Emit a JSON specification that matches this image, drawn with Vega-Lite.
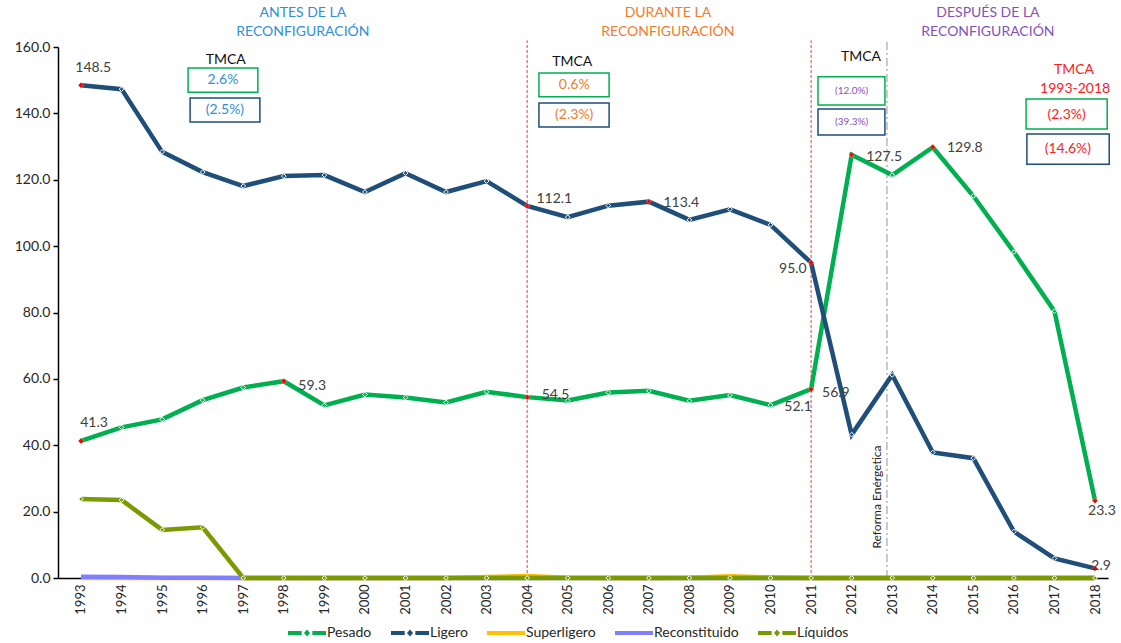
{
  "$schema": "https://vega.github.io/schema/vega-lite/v6.json",
  "autosize": "none",
  "width": 1050,
  "height": 531,
  "padding": {"left": 58, "top": 47, "right": 13, "bottom": 65},
  "background": "white",
  "config": {
    "view": {"stroke": null},
    "font": "Lato",
    "text": {"font": "Lato"}
  },
  "datasets": {
    "series": [
      {"year": 1993, "serie": "Pesado", "value": 41.3},
      {"year": 1994, "serie": "Pesado", "value": 45.4},
      {"year": 1995, "serie": "Pesado", "value": 47.8},
      {"year": 1996, "serie": "Pesado", "value": 53.6},
      {"year": 1997, "serie": "Pesado", "value": 57.4},
      {"year": 1998, "serie": "Pesado", "value": 59.3},
      {"year": 1999, "serie": "Pesado", "value": 52.0},
      {"year": 2000, "serie": "Pesado", "value": 55.3},
      {"year": 2001, "serie": "Pesado", "value": 54.4},
      {"year": 2002, "serie": "Pesado", "value": 52.9},
      {"year": 2003, "serie": "Pesado", "value": 56.1},
      {"year": 2004, "serie": "Pesado", "value": 54.5},
      {"year": 2005, "serie": "Pesado", "value": 53.5},
      {"year": 2006, "serie": "Pesado", "value": 55.9},
      {"year": 2007, "serie": "Pesado", "value": 56.4},
      {"year": 2008, "serie": "Pesado", "value": 53.4},
      {"year": 2009, "serie": "Pesado", "value": 55.1},
      {"year": 2010, "serie": "Pesado", "value": 52.1},
      {"year": 2011, "serie": "Pesado", "value": 56.9},
      {"year": 2012, "serie": "Pesado", "value": 127.5},
      {"year": 2013, "serie": "Pesado", "value": 121.4},
      {"year": 2014, "serie": "Pesado", "value": 129.8},
      {"year": 2015, "serie": "Pesado", "value": 115.1},
      {"year": 2016, "serie": "Pesado", "value": 98.2},
      {"year": 2017, "serie": "Pesado", "value": 80.4},
      {"year": 2018, "serie": "Pesado", "value": 23.3},
      {"year": 1993, "serie": "Ligero", "value": 148.5},
      {"year": 1994, "serie": "Ligero", "value": 147.3},
      {"year": 1995, "serie": "Ligero", "value": 128.4},
      {"year": 1996, "serie": "Ligero", "value": 122.3},
      {"year": 1997, "serie": "Ligero", "value": 118.1},
      {"year": 1998, "serie": "Ligero", "value": 121.1},
      {"year": 1999, "serie": "Ligero", "value": 121.4},
      {"year": 2000, "serie": "Ligero", "value": 116.3},
      {"year": 2001, "serie": "Ligero", "value": 122.0},
      {"year": 2002, "serie": "Ligero", "value": 116.3},
      {"year": 2003, "serie": "Ligero", "value": 119.6},
      {"year": 2004, "serie": "Ligero", "value": 112.1},
      {"year": 2005, "serie": "Ligero", "value": 108.7},
      {"year": 2006, "serie": "Ligero", "value": 112.2},
      {"year": 2007, "serie": "Ligero", "value": 113.4},
      {"year": 2008, "serie": "Ligero", "value": 107.9},
      {"year": 2009, "serie": "Ligero", "value": 111.1},
      {"year": 2010, "serie": "Ligero", "value": 106.4},
      {"year": 2011, "serie": "Ligero", "value": 95.0},
      {"year": 2012, "serie": "Ligero", "value": 43.2},
      {"year": 2013, "serie": "Ligero", "value": 61.2},
      {"year": 2014, "serie": "Ligero", "value": 37.8},
      {"year": 2015, "serie": "Ligero", "value": 36.1},
      {"year": 2016, "serie": "Ligero", "value": 14.0},
      {"year": 2017, "serie": "Ligero", "value": 5.9},
      {"year": 2018, "serie": "Ligero", "value": 2.9},
      {"year": 1993, "serie": "Superligero", "value": 0},
      {"year": 1994, "serie": "Superligero", "value": 0},
      {"year": 1995, "serie": "Superligero", "value": 0},
      {"year": 1996, "serie": "Superligero", "value": 0},
      {"year": 1997, "serie": "Superligero", "value": 0},
      {"year": 1998, "serie": "Superligero", "value": 0},
      {"year": 1999, "serie": "Superligero", "value": 0},
      {"year": 2000, "serie": "Superligero", "value": 0},
      {"year": 2001, "serie": "Superligero", "value": 0},
      {"year": 2002, "serie": "Superligero", "value": 0},
      {"year": 2003, "serie": "Superligero", "value": 0.3},
      {"year": 2004, "serie": "Superligero", "value": 0.6},
      {"year": 2005, "serie": "Superligero", "value": 0.1},
      {"year": 2006, "serie": "Superligero", "value": 0},
      {"year": 2007, "serie": "Superligero", "value": 0},
      {"year": 2008, "serie": "Superligero", "value": 0.1},
      {"year": 2009, "serie": "Superligero", "value": 0.5},
      {"year": 2010, "serie": "Superligero", "value": 0.2},
      {"year": 2011, "serie": "Superligero", "value": 0},
      {"year": 2012, "serie": "Superligero", "value": 0},
      {"year": 2013, "serie": "Superligero", "value": 0},
      {"year": 2014, "serie": "Superligero", "value": 0},
      {"year": 2015, "serie": "Superligero", "value": 0},
      {"year": 2016, "serie": "Superligero", "value": 0},
      {"year": 2017, "serie": "Superligero", "value": 0},
      {"year": 2018, "serie": "Superligero", "value": 0},
      {"year": 1993, "serie": "Reconstituido", "value": 0.4},
      {"year": 1994, "serie": "Reconstituido", "value": 0.3},
      {"year": 1995, "serie": "Reconstituido", "value": 0.1},
      {"year": 1996, "serie": "Reconstituido", "value": 0.1},
      {"year": 1997, "serie": "Reconstituido", "value": 0},
      {"year": 1998, "serie": "Reconstituido", "value": 0},
      {"year": 1999, "serie": "Reconstituido", "value": 0},
      {"year": 2000, "serie": "Reconstituido", "value": 0},
      {"year": 2001, "serie": "Reconstituido", "value": 0},
      {"year": 2002, "serie": "Reconstituido", "value": 0},
      {"year": 2003, "serie": "Reconstituido", "value": 0},
      {"year": 2004, "serie": "Reconstituido", "value": 0},
      {"year": 2005, "serie": "Reconstituido", "value": 0},
      {"year": 2006, "serie": "Reconstituido", "value": 0},
      {"year": 2007, "serie": "Reconstituido", "value": 0},
      {"year": 2008, "serie": "Reconstituido", "value": 0},
      {"year": 2009, "serie": "Reconstituido", "value": 0},
      {"year": 2010, "serie": "Reconstituido", "value": 0},
      {"year": 2011, "serie": "Reconstituido", "value": 0},
      {"year": 2012, "serie": "Reconstituido", "value": 0},
      {"year": 2013, "serie": "Reconstituido", "value": 0},
      {"year": 2014, "serie": "Reconstituido", "value": 0},
      {"year": 2015, "serie": "Reconstituido", "value": 0},
      {"year": 2016, "serie": "Reconstituido", "value": 0},
      {"year": 2017, "serie": "Reconstituido", "value": 0},
      {"year": 2018, "serie": "Reconstituido", "value": 0},
      {"year": 1993, "serie": "Líquidos", "value": 23.8},
      {"year": 1994, "serie": "Líquidos", "value": 23.5},
      {"year": 1995, "serie": "Líquidos", "value": 14.5},
      {"year": 1996, "serie": "Líquidos", "value": 15.3},
      {"year": 1997, "serie": "Líquidos", "value": 0},
      {"year": 1998, "serie": "Líquidos", "value": 0},
      {"year": 1999, "serie": "Líquidos", "value": 0},
      {"year": 2000, "serie": "Líquidos", "value": 0},
      {"year": 2001, "serie": "Líquidos", "value": 0},
      {"year": 2002, "serie": "Líquidos", "value": 0},
      {"year": 2003, "serie": "Líquidos", "value": 0},
      {"year": 2004, "serie": "Líquidos", "value": 0},
      {"year": 2005, "serie": "Líquidos", "value": 0},
      {"year": 2006, "serie": "Líquidos", "value": 0},
      {"year": 2007, "serie": "Líquidos", "value": 0},
      {"year": 2008, "serie": "Líquidos", "value": 0},
      {"year": 2009, "serie": "Líquidos", "value": 0},
      {"year": 2010, "serie": "Líquidos", "value": 0},
      {"year": 2011, "serie": "Líquidos", "value": 0},
      {"year": 2012, "serie": "Líquidos", "value": 0},
      {"year": 2013, "serie": "Líquidos", "value": 0},
      {"year": 2014, "serie": "Líquidos", "value": 0},
      {"year": 2015, "serie": "Líquidos", "value": 0},
      {"year": 2016, "serie": "Líquidos", "value": 0},
      {"year": 2017, "serie": "Líquidos", "value": 0},
      {"year": 2018, "serie": "Líquidos", "value": 0}
    ],
    "highlights": [
      {"year": 1993, "value": 41.3, "text": "41.3", "lx": 1993.32, "ly": 46.7},
      {"year": 1993, "value": 148.5, "text": "148.5", "lx": 1993.30, "ly": 153.7},
      {"year": 1998, "value": 59.3, "text": "59.3", "lx": 1998.70, "ly": 57.8},
      {"year": 2004, "value": 54.5, "text": "54.5", "lx": 2004.70, "ly": 55.1},
      {"year": 2004, "value": 112.1, "text": "112.1", "lx": 2004.67, "ly": 114.2},
      {"year": 2007, "value": 113.4, "text": "113.4", "lx": 2007.80, "ly": 113.0},
      {"year": 2011, "value": 95.0, "text": "95.0", "lx": 2010.55, "ly": 93.1},
      {"year": 2011, "value": 56.9, "text": "56.9", "lx": 2011.61, "ly": 55.7},
      {"year": 2012, "value": 127.5, "text": "127.5", "lx": 2012.80, "ly": 126.8},
      {"year": 2014, "value": 129.8, "text": "129.8", "lx": 2014.79, "ly": 129.6},
      {"year": 2018, "value": 23.3, "text": "23.3", "lx": 2018.17, "ly": 20.2},
      {"year": 2018, "value": 2.9, "text": "2.9", "lx": 2018.15, "ly": 3.6}
    ],
    "extralabels": [
      {"year": 2010.68, "value": 51.5, "text": "52.1"}
    ],
    "headers": [
      {"year": 1998.47, "value": 170.2, "text": "ANTES DE LA", "grp": "antes"},
      {"year": 1998.47, "value": 164.5, "text": "RECONFIGURACIÓN", "grp": "antes"},
      {"year": 2007.47, "value": 170.2, "text": "DURANTE LA", "grp": "durante"},
      {"year": 2007.47, "value": 164.5, "text": "RECONFIGURACIÓN", "grp": "durante"},
      {"year": 2015.36, "value": 170.2, "text": "DESPUÉS DE LA", "grp": "despues"},
      {"year": 2015.36, "value": 164.5, "text": "RECONFIGURACIÓN", "grp": "despues"},
      {"year": 1996.57, "value": 156.1, "text": "TMCA", "grp": "tmca"},
      {"year": 2005.11, "value": 155.5, "text": "TMCA", "grp": "tmca"},
      {"year": 2012.23, "value": 157.0, "text": "TMCA", "grp": "tmca"},
      {"year": 2017.48, "value": 153.1, "text": "TMCA", "grp": "total"},
      {"year": 2017.51, "value": 147.3, "text": "1993-2018", "grp": "total"},
      {"year": 1996.50, "value": 150.0, "text": "2.6%", "grp": "antes"},
      {"year": 1996.55, "value": 141.0, "text": "(2.5%)", "grp": "antes"},
      {"year": 2005.16, "value": 148.5, "text": "0.6%", "grp": "durante"},
      {"year": 2005.16, "value": 139.5, "text": "(2.3%)", "grp": "durante"},
      {"year": 2017.30, "value": 139.5, "text": "(2.3%)", "grp": "total"},
      {"year": 2017.33, "value": 129.2, "text": "(14.6%)", "grp": "total"},
      {"year": 2012.0, "value": 146.7, "text": "(12.0%)", "grp": "despuesbox"},
      {"year": 2012.0, "value": 137.4, "text": "(39.3%)", "grp": "despuesbox"}
    ],
    "boxes": [
      {"year": 1995.64, "year2": 1997.36, "value": 153.7, "value2": 146.4, "kind": "Pesado"},
      {"year": 1995.69, "year2": 1997.41, "value": 144.6, "value2": 137.4, "kind": "Ligero"},
      {"year": 2004.29, "year2": 2006.02, "value": 152.2, "value2": 145.0, "kind": "Pesado"},
      {"year": 2004.29, "year2": 2006.02, "value": 143.1, "value2": 135.9, "kind": "Ligero"},
      {"year": 2011.17, "year2": 2012.82, "value": 151.0, "value2": 142.5, "kind": "Pesado"},
      {"year": 2011.17, "year2": 2012.82, "value": 141.3, "value2": 133.5, "kind": "Ligero"},
      {"year": 2016.30, "year2": 2018.30, "value": 144.3, "value2": 135.3, "kind": "Pesado"},
      {"year": 2016.32, "year2": 2018.35, "value": 133.8, "value2": 124.7, "kind": "Ligero"}
    ],
    "periods": [
      {"year": 2004, "value": 0, "value2": 162},
      {"year": 2011, "value": 0, "value2": 162}
    ],
    "reforma": [
      {"year": 2012.87, "value": 0, "value2": 161.5, "text": "Reforma Enérgetica", "ty": 2012.62, "tv": 24.4}
    ]
  },
  "layer": [
    {
      "data": {"name": "periods"},
      "mark": {"type": "rule", "color": "#FF0000", "strokeWidth": 1, "strokeDash": [3, 2], "opacity": 0.8},
      "encoding": {
        "x": {"field": "year", "type": "quantitative", "scale": {"domain": [1992.433, 2018.32], "nice": false, "zero": false},
          "axis": {"values": [1993,1994,1995,1996,1997,1998,1999,2000,2001,2002,2003,2004,2005,2006,2007,2008,2009,2010,2011,2012,2013,2014,2015,2016,2017,2018], "format": "d", "labelAngle": -90, "labelAlign": "right", "labelBaseline": "middle", "labelFont": "Lato", "labelFontSize": 13, "labelColor": "#262626", "labelPadding": 6, "ticks": false, "grid": false, "domainColor": "#000000", "domainWidth": 1.5, "title": null, "labelFlush": false, "labelOverlap": false}},
        "y": {"field": "value", "type": "quantitative", "scale": {"domain": [0, 160], "nice": false},
          "axis": {"values": [0,20,40,60,80,100,120,140,160], "format": ".1f", "labelFont": "Lato", "labelFontSize": 14, "labelColor": "#262626", "labelPadding": 3, "tickSize": 5, "tickColor": "#000000", "tickWidth": 1.5, "grid": false, "domainColor": "#000000", "domainWidth": 1.5, "title": null}},
        "y2": {"field": "value2"}
      }
    },
    {
      "data": {"name": "reforma"},
      "mark": {"type": "rule", "color": "#A6A6A6", "strokeWidth": 1.2, "strokeDash": [8, 3, 2, 3]},
      "encoding": {
        "x": {"field": "year", "type": "quantitative"},
        "y": {"field": "value", "type": "quantitative"},
        "y2": {"field": "value2"}
      }
    },
    {
      "data": {"name": "reforma"},
      "mark": {"type": "text", "angle": 270, "fontSize": 12, "color": "#262626", "align": "center", "baseline": "middle", "font": "Lato"},
      "encoding": {
        "x": {"field": "ty", "type": "quantitative"},
        "y": {"field": "tv", "type": "quantitative"},
        "text": {"field": "text"}
      }
    },
    {
      "data": {"name": "series"},
      "mark": {"type": "line", "strokeWidth": 4.5, "strokeJoin": "miter"},
      "encoding": {
        "x": {"field": "year", "type": "quantitative"},
        "y": {"field": "value", "type": "quantitative"},
        "color": {
          "field": "serie", "type": "nominal",
          "scale": {"domain": ["Pesado", "Ligero", "Superligero", "Reconstituido", "Líquidos"], "range": ["#00B050", "#1F4E79", "#FFC000", "#8080FF", "#7A9A01"]},
          "legend": {
            "title": null, "orient": "none", "direction": "horizontal", "legendX": 230, "legendY": 567,
            "labelFont": "Lato", "labelFontSize": 14, "labelColor": "#262626", "labelOffset": 1,
            "symbolSize": 1444, "symbolStrokeWidth": 0, "columnPadding": 19, "symbolOffset": 0,
            "encode": {
              "symbols": {
                "update": {
                  "shape": [
                    {"test": "datum.value === 'Superligero' || datum.value === 'Reconstituido'", "value": "M-1,-0.1H1V0.1H-1Z"},
                    {"value": "M-1,-0.1H-0.28V0.1H-1Z M0.28,-0.1H1V0.1H0.28Z M0,-0.19L0.16,0L0,0.19L-0.16,0Z"}
                  ],
                  "fill": {"scale": "color", "field": "value"},
                  "strokeWidth": {"value": 0},
                  "opacity": {"value": 1}
                }
              }
            }
          }
        },
        "order": {"field": "year", "type": "quantitative"}
      }
    },
    {
      "data": {"name": "series"},
      "transform": [{"filter": "datum.serie === 'Pesado' || datum.serie === 'Ligero' || datum.serie === 'Líquidos'"}],
      "mark": {"type": "point", "shape": "diamond", "filled": true, "size": 22, "stroke": "white", "strokeWidth": 1, "opacity": 1},
      "encoding": {
        "x": {"field": "year", "type": "quantitative"},
        "y": {"field": "value", "type": "quantitative"},
        "fill": {"field": "serie", "type": "nominal", "scale": {"domain": ["Pesado", "Ligero", "Superligero", "Reconstituido", "Líquidos"], "range": ["#00B050", "#1F4E79", "#FFC000", "#8080FF", "#7A9A01"]}, "legend": null}
      }
    },
    {
      "data": {"name": "highlights"},
      "mark": {"type": "point", "shape": "diamond", "filled": true, "size": 30, "color": "#FF0000", "opacity": 1},
      "encoding": {
        "x": {"field": "year", "type": "quantitative"},
        "y": {"field": "value", "type": "quantitative"}
      }
    },
    {
      "data": {"name": "highlights"},
      "mark": {"type": "text", "fontSize": 14, "color": "#404040", "align": "center", "baseline": "middle", "font": "Lato"},
      "encoding": {
        "x": {"field": "lx", "type": "quantitative"},
        "y": {"field": "ly", "type": "quantitative"},
        "text": {"field": "text"}
      }
    },
    {
      "data": {"name": "extralabels"},
      "mark": {"type": "text", "fontSize": 14, "color": "#404040", "align": "center", "baseline": "middle", "font": "Lato"},
      "encoding": {
        "x": {"field": "year", "type": "quantitative"},
        "y": {"field": "value", "type": "quantitative"},
        "text": {"field": "text"}
      }
    },
    {
      "data": {"name": "boxes"},
      "transform": [{"filter": "datum.kind === 'Pesado'"}],
      "mark": {"type": "rect", "fill": "white", "stroke": "#00B050", "strokeWidth": 1.5},
      "encoding": {
        "x": {"field": "year", "type": "quantitative"},
        "x2": {"field": "year2"},
        "y": {"field": "value", "type": "quantitative"},
        "y2": {"field": "value2"}
      }
    },
    {
      "data": {"name": "boxes"},
      "transform": [{"filter": "datum.kind === 'Ligero'"}],
      "mark": {"type": "rect", "fill": "white", "stroke": "#1F4E79", "strokeWidth": 1.5},
      "encoding": {
        "x": {"field": "year", "type": "quantitative"},
        "x2": {"field": "year2"},
        "y": {"field": "value", "type": "quantitative"},
        "y2": {"field": "value2"}
      }
    },
    {
      "data": {"name": "headers"},
      "transform": [{"filter": "datum.grp === 'antes'"}],
      "mark": {"type": "text", "fontSize": 14, "color": "#2E8FDB", "align": "center", "baseline": "middle", "font": "Lato"},
      "encoding": {
        "x": {"field": "year", "type": "quantitative"},
        "y": {"field": "value", "type": "quantitative"},
        "text": {"field": "text"}
      }
    },
    {
      "data": {"name": "headers"},
      "transform": [{"filter": "datum.grp === 'durante'"}],
      "mark": {"type": "text", "fontSize": 14, "color": "#F47B2A", "align": "center", "baseline": "middle", "font": "Lato"},
      "encoding": {
        "x": {"field": "year", "type": "quantitative"},
        "y": {"field": "value", "type": "quantitative"},
        "text": {"field": "text"}
      }
    },
    {
      "data": {"name": "headers"},
      "transform": [{"filter": "datum.grp === 'despues'"}],
      "mark": {"type": "text", "fontSize": 14, "color": "#8552BC", "align": "center", "baseline": "middle", "font": "Lato"},
      "encoding": {
        "x": {"field": "year", "type": "quantitative"},
        "y": {"field": "value", "type": "quantitative"},
        "text": {"field": "text"}
      }
    },
    {
      "data": {"name": "headers"},
      "transform": [{"filter": "datum.grp === 'despuesbox'"}],
      "mark": {"type": "text", "fontSize": 10, "color": "#8552BC", "align": "center", "baseline": "middle", "font": "Lato"},
      "encoding": {
        "x": {"field": "year", "type": "quantitative"},
        "y": {"field": "value", "type": "quantitative"},
        "text": {"field": "text"}
      }
    },
    {
      "data": {"name": "headers"},
      "transform": [{"filter": "datum.grp === 'tmca'"}],
      "mark": {"type": "text", "fontSize": 14, "color": "#111111", "align": "center", "baseline": "middle", "font": "Lato"},
      "encoding": {
        "x": {"field": "year", "type": "quantitative"},
        "y": {"field": "value", "type": "quantitative"},
        "text": {"field": "text"}
      }
    },
    {
      "data": {"name": "headers"},
      "transform": [{"filter": "datum.grp === 'total'"}],
      "mark": {"type": "text", "fontSize": 14, "color": "#FF1A1A", "align": "center", "baseline": "middle", "font": "Lato"},
      "encoding": {
        "x": {"field": "year", "type": "quantitative"},
        "y": {"field": "value", "type": "quantitative"},
        "text": {"field": "text"}
      }
    }
  ]
}
